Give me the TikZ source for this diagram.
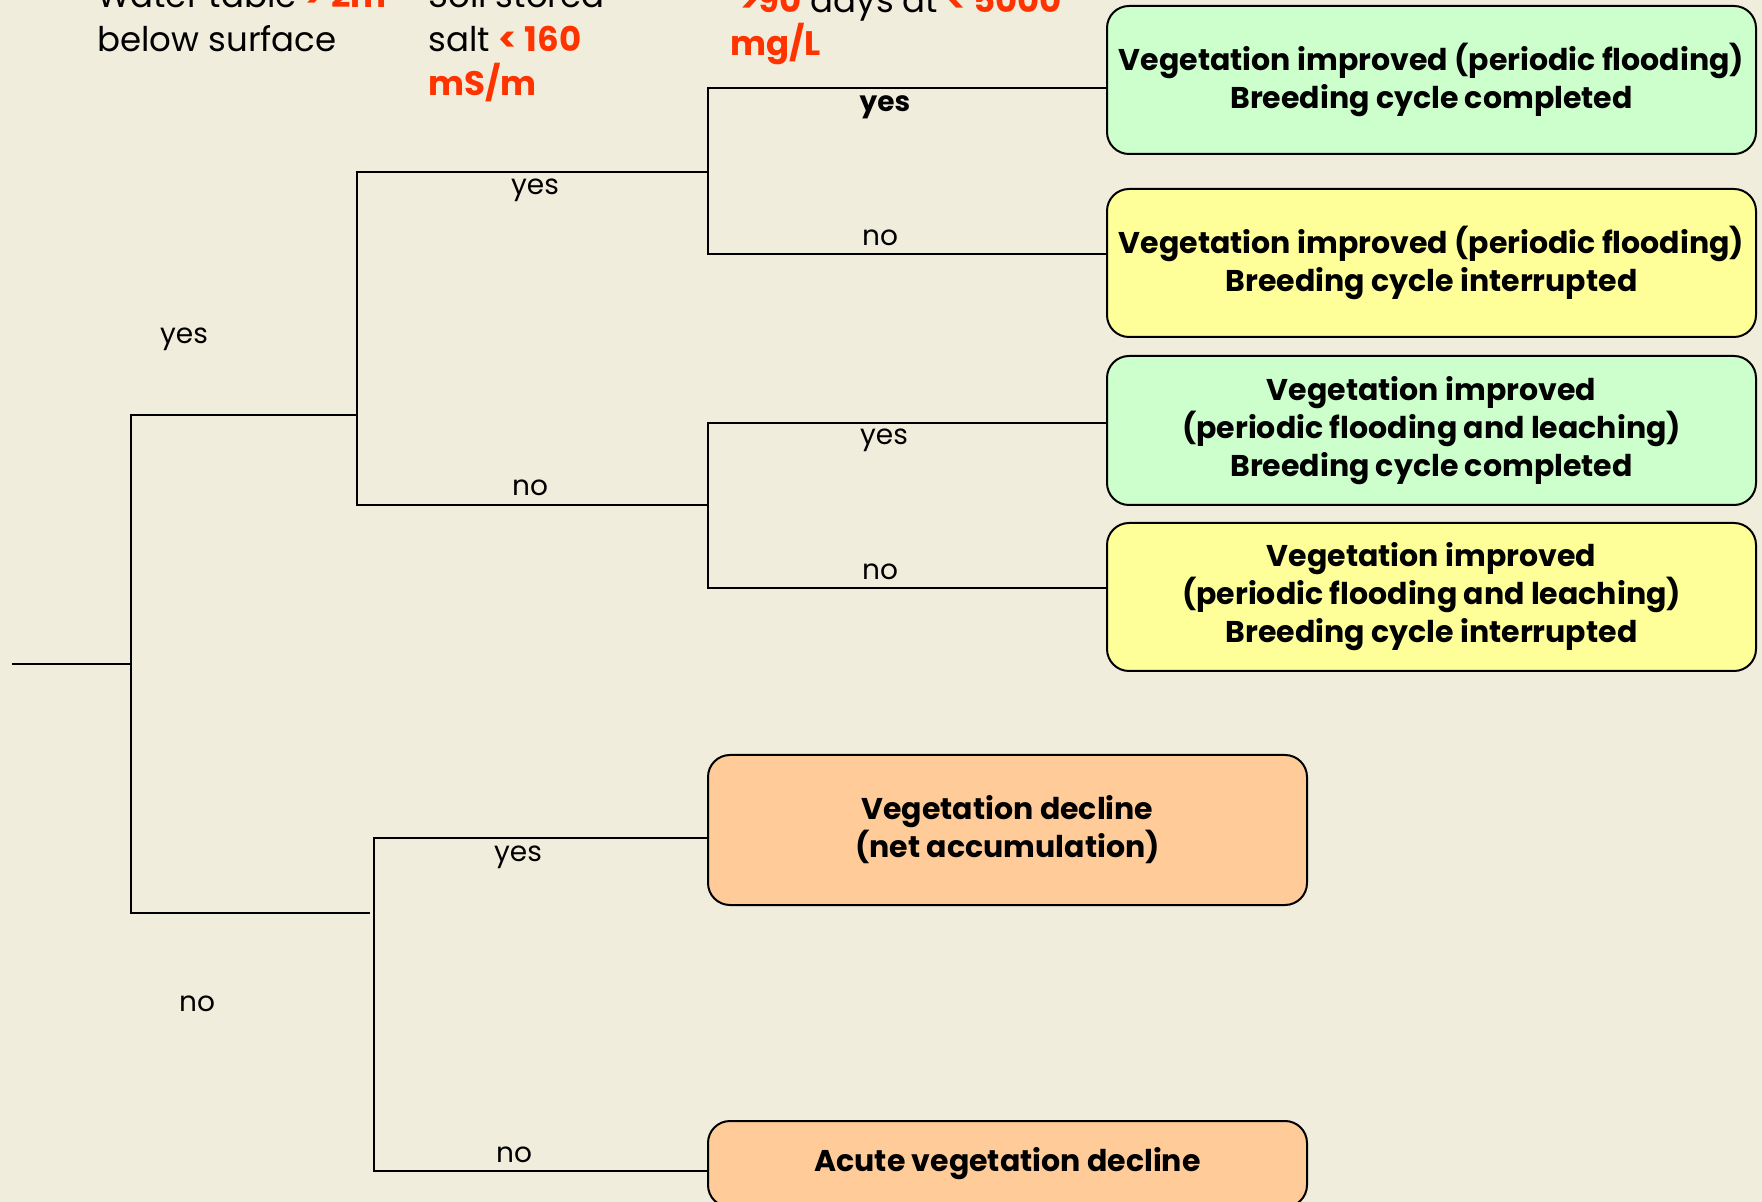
\documentclass[tikz,border=0pt]{standalone}
\usepackage{fontspec}
\setmainfont{Poppins}
\definecolor{paper}{RGB}{241,237,220}
\definecolor{hired}{RGB}{255,51,0}
\definecolor{okgreen}{RGB}{204,255,204}
\definecolor{midyellow}{RGB}{255,255,153}
\definecolor{badorange}{RGB}{255,204,153}
\tikzset{
  outcome/.style={draw=black, line width=1pt, rounded corners=11pt, inner sep=0pt,
    align=center, font=\fontsize{15}{19}\selectfont\bfseries},
  branch/.style={line width=1.15pt, line cap=rect},
  lbl/.style={font=\fontsize{14}{17}\selectfont, inner sep=0pt},
  head/.style={font=\fontsize{17}{22}\selectfont, anchor=base west, inner sep=0pt}
}
\newcommand{\hl}[1]{{\color{hired}\bfseries #1}}
\begin{document}
\begin{tikzpicture}[x=0.5pt,y=-0.5pt]
\useasboundingbox (0,0) rectangle (1762,1202);
\clip (0,0) rectangle (1762,1202);
\fill[paper] (0,0) rectangle (1762,1202);

% column headings (criteria)
\node[head] (h1a) at (97,8) {Water table \hl{> 2m}};
\node[head] (h1b) at (97,52) {below surface};
\node[head] (h2a) at (428,8) {Soil stored};
\node[head] (h2b) at (428,52) {salt \hl{< 160}};
\node[head] (h2c) at (428,96) {\hl{mS/m}};
\node[head] (h3a) at (740,13) {\hl{>90} days at \hl{< 5000}};
\node[head] (h3b) at (730,56) {\hl{mg/L}};

% outcomes
\node[outcome, fill=okgreen, minimum width=324.5pt, minimum height=74pt] (b1) at (1431.5,80)
  {Vegetation improved (periodic flooding)\\Breeding cycle completed};
\node[outcome, fill=midyellow, minimum width=324.5pt, minimum height=74pt] (b2) at (1431.5,263)
  {Vegetation improved (periodic flooding)\\Breeding cycle interrupted};
\node[outcome, fill=okgreen, minimum width=324.5pt, minimum height=74.5pt] (b3) at (1431.5,430.5)
  {Vegetation improved\\(periodic flooding and leaching)\\Breeding cycle completed};
\node[outcome, fill=midyellow, minimum width=324.5pt, minimum height=74pt] (b4) at (1431.5,597)
  {Vegetation improved\\(periodic flooding and leaching)\\Breeding cycle interrupted};
\node[outcome, fill=badorange, minimum width=299.5pt, minimum height=75pt] (b5) at (1007.5,830)
  {Vegetation decline\\(net accumulation)};
\node[outcome, fill=badorange, minimum width=299.5pt, minimum height=43pt] (b6) at (1007.5,1164)
  {Acute vegetation decline};

% tree junctions
\coordinate (root) at (13,664);
\coordinate (n1) at (131,664);
\coordinate (n1t) at (131,415);
\coordinate (n1b) at (131,913);
\coordinate (n2) at (357,415);
\coordinate (n2a) at (357,172);
\coordinate (n2b) at (357,505);
\coordinate (n3m) at (708,172);
\coordinate (n3a) at (708,88);
\coordinate (n3b) at (708,254);
\coordinate (n4m) at (708,505);
\coordinate (n4a) at (708,423);
\coordinate (n4b) at (708,588);
\coordinate (n5e) at (369,913);
\coordinate (n5a) at (374,838);
\coordinate (n5b) at (374,1171);

\draw[branch] (root) -- (n1);
\draw[branch] (n1t) -- (n1b);
\draw[branch] (n1t) -- (n2);
\draw[branch] (n2a) -- (n2b);
\draw[branch] (n2a) -- (n3m);
\draw[branch] (n3a) -- (n3b);
\draw[branch] (n3a) -- (n3a -| b1.west);
\draw[branch] (n3b) -- (n3b -| b2.west);
\draw[branch] (n2b) -- (n4m);
\draw[branch] (n4a) -- (n4b);
\draw[branch] (n4a) -- (n4a -| b3.west);
\draw[branch] (n4b) -- (n4b -| b4.west);
\draw[branch] (n1b) -- (n5e);
\draw[branch] (n5a) -- (n5b);
\draw[branch] (n5a) -- (n5a -| b5.west);
\draw[branch] (n5b) -- (n5b -| b6.west);

% branch labels
\node[lbl] (l1) at (184,339) {yes};
\node[lbl] (l2) at (197,1004) {no};
\node[lbl] (l3) at (535,190) {yes};
\node[lbl] (l4) at (530,488) {no};
\node[lbl, font=\fontsize{14}{17}\selectfont\bfseries] (l5) at (885,107) {yes};
\node[lbl] (l6) at (880,238) {no};
\node[lbl] (l7) at (884,440) {yes};
\node[lbl] (l8) at (880,572) {no};
\node[lbl] (l9) at (518,857) {yes};
\node[lbl] (l10) at (514,1155) {no};
\end{tikzpicture}
\end{document}
